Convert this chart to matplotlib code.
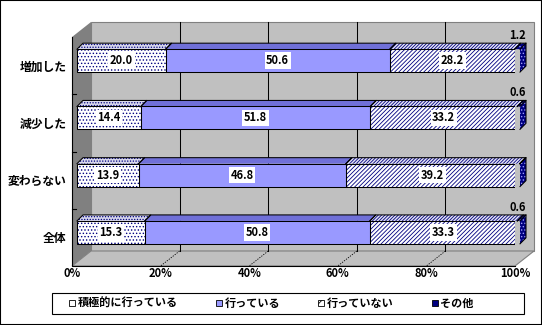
import matplotlib
matplotlib.use('Agg')
import matplotlib.pyplot as plt
from matplotlib.patches import Polygon, Rectangle, Patch
from matplotlib.transforms import IdentityTransform, Affine2D
from matplotlib.lines import Line2D

plt.rcParams['font.family'] = ['Noto Sans CJK JP', 'DejaVu Sans']
plt.rcParams['font.weight'] = 'bold'
plt.rcParams['hatch.linewidth'] = 0.6

categories = ['増加した', '減少した', '変わらない', '全体']
series_names = ['積極的に行っている', '行っている', '行っていない', 'その他']
active = [20.0, 14.4, 13.9, 15.3]
doing = [50.6, 51.8, 46.8, 50.8]
not_doing = [28.2, 33.2, 39.2, 33.3]
other = [1.2, 0.6, 0.1, 0.6]
other_labels = ['1.2', '0.6', '', '0.6']
xticks = [0, 20, 40, 60, 80, 100]
xtick_labels = ['0%', '20%', '40%', '60%', '80%', '100%']

NAVY = '#000080'
W, H = 542, 325
fig = plt.figure(figsize=(W / 100, H / 100), dpi=100)
fig.patch.set_facecolor('white')
ax = fig.add_axes([72 / W, 1 - 266 / H, 443 / W, 229 / H])
ax.set_xlim(0, 100)
ax.set_ylim(len(categories) - 0.5, -0.5)
ax.set_autoscale_on(False)
ax.patch.set_visible(False)
for s in ax.spines.values():
    s.set_visible(False)

DEPTH = (19, 15)
BF = (5, 5)
BB = (11, 11)
BAR_H = 0.40


def P(x, y, d=(0, 0)):
    X, Y = ax.transData.transform((x, y))
    return (X + d[0], Y + d[1])


def poly(pts, **kw):
    p = Polygon(pts, closed=True, transform=IdentityTransform(), clip_on=False, **kw)
    ax.add_patch(p)
    return p


def line(pts, **kw):
    xs = [p[0] for p in pts]
    ys = [p[1] for p in pts]
    ln = Line2D(xs, ys, transform=IdentityTransform(), clip_on=False, **kw)
    ax.add_line(ln)
    return ln


yt, yb = -0.5, len(categories) - 0.5
# walls
poly([P(0, yt, DEPTH), P(100, yt, DEPTH), P(100, yb, DEPTH), P(0, yb, DEPTH)],
     fc='#C0C0C0', ec='#808080', lw=0.8, zorder=0.5)
poly([P(0, yt), P(0, yt, DEPTH), P(0, yb, DEPTH), P(0, yb)],
     fc='#808080', ec='none', zorder=0.6)
poly([P(0, yb), P(100, yb), P(100, yb, DEPTH), P(0, yb, DEPTH)],
     fc='#C0C0C0', ec='#808080', lw=0.8, zorder=0.6)
line([P(0, yt), P(0, yb), P(100, yb)], color='black', lw=0.8, zorder=0.7)
for v in xticks[1:-1]:
    line([P(v, yt, DEPTH), P(v, yb, DEPTH)], color='black', lw=0.75, zorder=0.7)
    line([P(v, yb, DEPTH), P(v, yb)], color='black', lw=0.6,
         linestyle=(0, (1.5, 1.5)), zorder=0.7)
for c in range(1, len(categories)):
    line([P(0, c - 0.5), P(0, c - 0.5, (4, 0))], color='black', lw=0.8, zorder=0.7)

T_front = ax.transData + Affine2D().translate(*BF)

series = [active, doing, not_doing, other]
face_fc = ['white', '#9999FF', 'white', NAVY]
face_hatch = ['.....', None, '////////', '.....']
face_hc = [NAVY, '#9999FF', NAVY, '#A0A0FF']
top_fc = ['#D8D8EC', '#7070D8', '#E4E4F4', NAVY]
top_hatch = ['......', None, '//////////', '.....']

ypos = list(range(len(categories)))
lefts = [0.0] * len(categories)
for si, vals in enumerate(series):
    ax.barh(ypos, vals, left=lefts, height=BAR_H, color=face_fc[si],
            edgecolor=face_hc[si], hatch=face_hatch[si], lw=0,
            transform=T_front, zorder=3)
    ax.barh(ypos, vals, left=lefts, height=BAR_H, fill=False,
            edgecolor='black', lw=0.75, transform=T_front, zorder=3.1)
    for ci, v in enumerate(vals):
        l, r = lefts[ci], lefts[ci] + v
        ytop = ci - BAR_H / 2
        poly([P(l, ytop, BF), P(r, ytop, BF), P(r, ytop, BB), P(l, ytop, BB)],
             fc=top_fc[si], ec=face_hc[si] if top_hatch[si] else top_fc[si],
             hatch=top_hatch[si], lw=0, zorder=3)
        line([P(l, ytop, BF), P(l, ytop, BB), P(r, ytop, BB), P(r, ytop, BF)],
             color='black', lw=0.75, zorder=3.2)
        if si == len(series) - 1:
            ybot = ci + BAR_H / 2
            poly([P(r, ytop, BF), P(r, ybot, BF), P(r, ybot, BB), P(r, ytop, BB)],
                 fc=NAVY, ec='#A0A0FF', hatch='.....', lw=0, zorder=3)
            line([P(r, ytop, BB), P(r, ybot, BB), P(r, ybot, BF)],
                 color='black', lw=0.75, zorder=3.2)
        if si < len(series) - 1:
            ax.text(l + v / 2, ci, f'{v:.1f}', transform=T_front, ha='center',
                    va='center', fontsize=8, fontweight='bold', zorder=10,
                    bbox=dict(boxstyle='square,pad=0.15', fc='white', ec='none'))
    lefts = [a + b for a, b in zip(lefts, vals)]

for ci, lab in enumerate(other_labels):
    if lab:
        ax.text(100, ci - BAR_H / 2, lab,
                transform=ax.transData + Affine2D().translate(3, 12),
                ha='center', va='bottom', fontsize=8, fontweight='bold', zorder=10)

ax.set_yticks(ypos, labels=categories)
ax.set_xticks(xticks, labels=xtick_labels)
ax.tick_params(axis='y', length=0, pad=4, labelsize=8.5)
ax.tick_params(axis='x', length=0, pad=1, labelsize=8)
for t in ax.get_xticklabels() + ax.get_yticklabels():
    t.set_fontweight('bold')

handles = [Patch(fc='white', ec='black', lw=0.6),
           Patch(fc='#9999FF', ec='black', lw=0.6),
           Patch(fc='white', ec='black', hatch='///', lw=0.6),
           Patch(fc=NAVY, ec='black', lw=0.6)]
fig.legend(handles, series_names, loc='center left',
           bbox_to_anchor=(69 / W, 1 - 303.5 / H), ncol=4, frameon=False,
           prop={'size': 8, 'weight': 'bold'}, handlelength=0.55, handleheight=0.55,
           handletextpad=0.25, columnspacing=3.4, borderpad=0, borderaxespad=0)
fig.add_artist(Rectangle((52 / W, 1 - 314 / H), (524 - 52) / W, 21 / H,
                         transform=fig.transFigure, fill=False, ec='black', lw=0.8))
fig.add_artist(Rectangle((0, 0), 1, 1, transform=fig.transFigure, fill=False,
                         ec='black', lw=1.5, clip_on=False))

fig.savefig('out.png', dpi=100)
